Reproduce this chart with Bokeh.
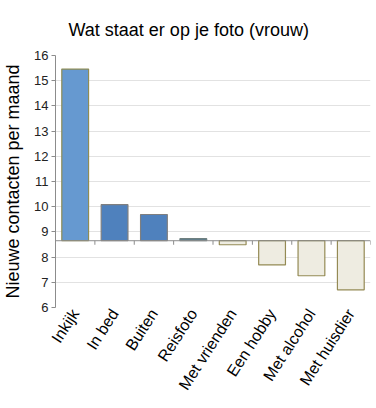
from bokeh.plotting import figure
from bokeh.models import (ColumnDataSource, FactorRange, Range1d, Span,
                          SingleIntervalTicker, Title)
from bokeh.transform import dodge
from bokeh.embed import file_html
from bokeh.resources import INLINE

categories = ["Inkijk", "In bed", "Buiten", "Reisfoto", "Met vrienden",
              "Een hobby", "Met alcohol", "Met huisdier"]
values = [15.46, 10.08, 9.69, 8.73, 8.49, 7.69, 7.26, 6.70]
baseline = 8.65
y_min, y_max = 6, 16
fill_colors = ["#6699D0", "#4F81BD", "#4F81BD", "#5E7E8E",
               "#EEECE1", "#EEECE1", "#EEECE1", "#EEECE1"]
line_colors = ["#8E8C55", "#7F7F7F", "#7F7F7F", "#6F8080",
               "#948A54", "#948A54", "#948A54", "#948A54"]

FONT = "Liberation Sans"

n = len(categories)
src = ColumnDataSource(dict(cat=categories, top=values,
                            bottom=[baseline] * n,
                            fill=fill_colors, line=line_colors,
                            tick_top=[baseline] * n,
                            tick_bot=[baseline - 0.16] * n))

p = figure(width=376, height=408, output_backend="svg", toolbar_location=None,
           x_range=FactorRange(factors=categories, range_padding=0),
           y_range=Range1d(y_min, y_max),
           min_border_left=54, min_border_right=6,
           min_border_top=55, min_border_bottom=101)
p.outline_line_color = None
p.background_fill_color = "white"
p.border_fill_color = "white"

t = Title(text="Wat staat er op je foto (vrouw)", align="left",
          vertical_align="top",
          text_font=FONT, text_font_size="18px", text_font_style="normal",
          text_color="#000000", standoff=28, offset=13)
p.add_layout(t, "above")

p.vbar(x="cat", top="top", bottom="bottom", width=0.68, source=src,
       fill_color="fill", line_color="line", line_width=1.2)

# category boundary ticks on the baseline
p.segment(x0=dodge("cat", 0.5, range=p.x_range), y0="tick_top",
          x1=dodge("cat", 0.5, range=p.x_range), y1="tick_bot",
          source=src, line_color="#8C8C8C", line_width=1)

p.add_layout(Span(location=baseline, dimension="width",
                  line_color="#8C8C8C", line_width=1))

# grid
p.xgrid.grid_line_color = None
p.ygrid.grid_line_color = "#E2E2E2"
p.ygrid.ticker = SingleIntervalTicker(interval=1)

# y axis
p.yaxis.ticker = SingleIntervalTicker(interval=1)
p.yaxis.axis_label = "Nieuwe contacten per maand"
p.yaxis.axis_label_text_font = FONT
p.yaxis.axis_label_text_font_size = "18px"
p.yaxis.axis_label_text_font_style = "normal"
p.yaxis.axis_label_text_color = "#000000"
p.yaxis.axis_label_standoff = 8
p.yaxis.major_label_text_font = FONT
p.yaxis.major_label_text_font_size = "13px"
p.yaxis.major_label_text_color = "#222222"
p.yaxis.major_label_standoff = 3
p.yaxis.axis_line_color = "#8C8C8C"
p.yaxis.major_tick_line_color = "#8C8C8C"
p.yaxis.major_tick_out = 4
p.yaxis.major_tick_in = 0
p.yaxis.minor_tick_line_color = None

# x axis (labels only, rotated)
p.xaxis.axis_line_color = None
p.xaxis.major_tick_line_color = None
p.xaxis.minor_tick_line_color = None
p.xaxis.major_tick_out = 0
p.xaxis.major_tick_in = 0
p.xaxis.major_label_orientation = 1.0
p.xaxis.major_label_text_font = FONT
p.xaxis.major_label_text_font_size = "16px"
p.xaxis.major_label_text_color = "#000000"
p.xaxis.major_label_standoff = 3

open("out.html", "w").write(file_html(p, INLINE))
